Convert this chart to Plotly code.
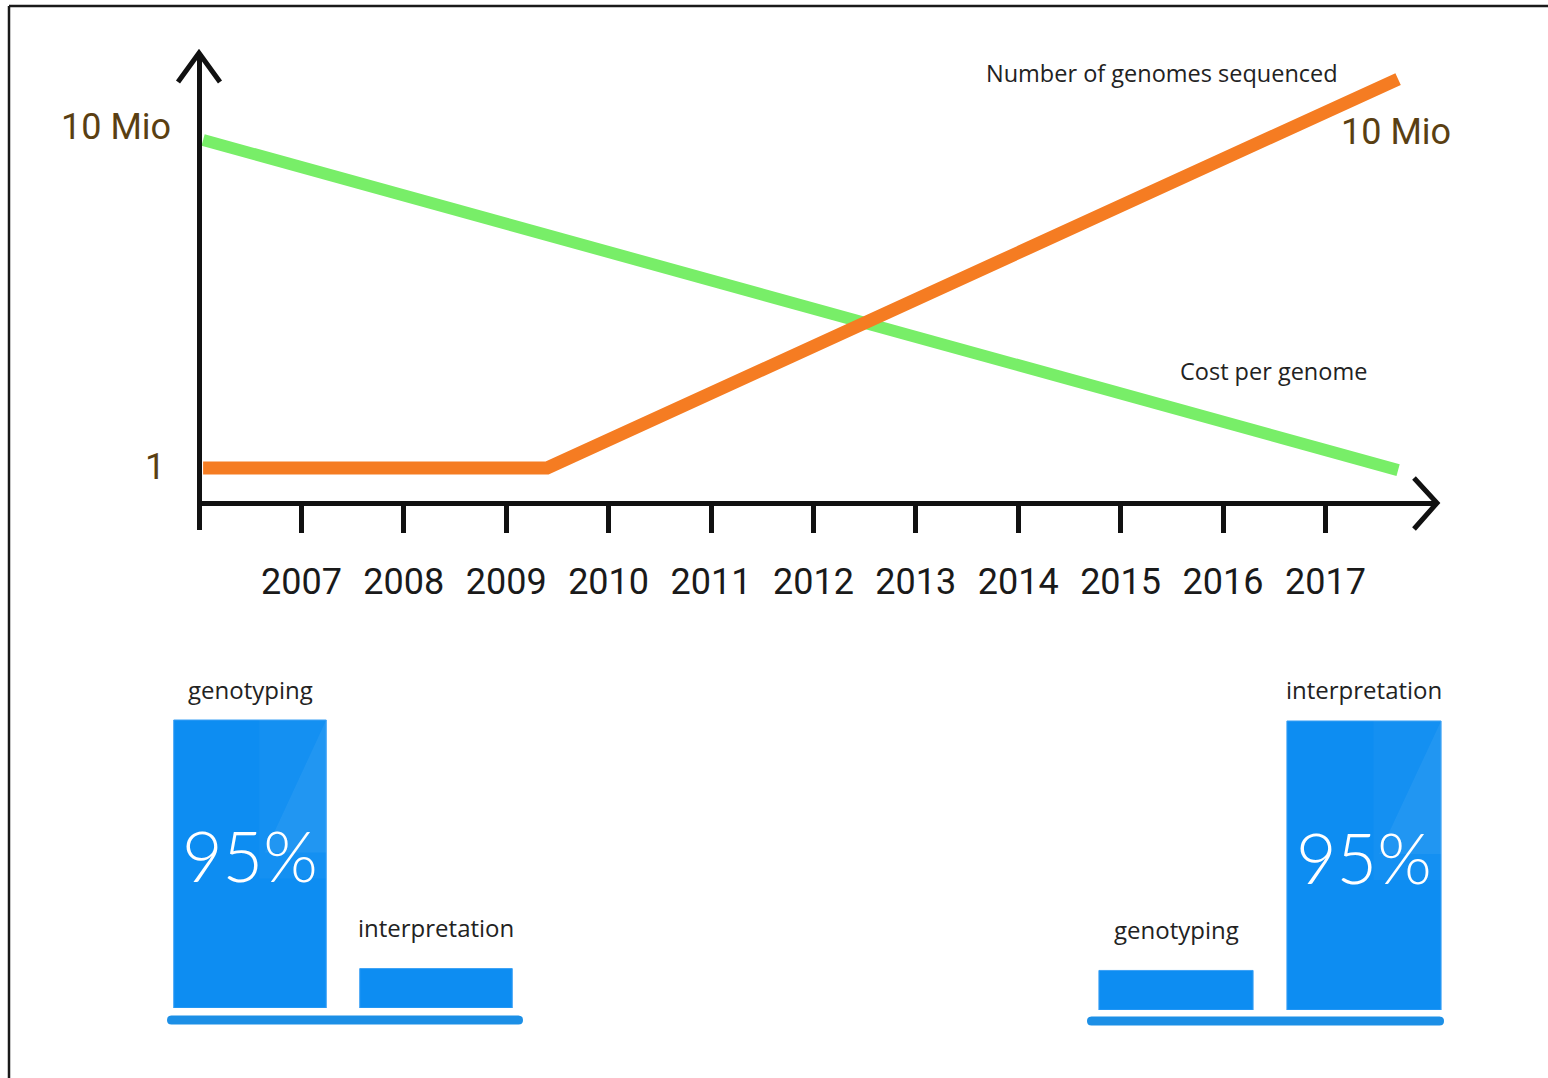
import math
import plotly.graph_objects as go

# ---- data -------------------------------------------------------------
years = [2007, 2008, 2009, 2010, 2011, 2012, 2013, 2014, 2015, 2016, 2017]

cost_x = [2006.04, 2017.71]          # cost per genome
cost_y = [1.0e7, 0.9]

genomes_x = [2006.04, 2009.40, 2017.71]   # number of genomes sequenced
genomes_y = [1.0, 1.0, 2.0e8]

categories = ["genotyping", "interpretation"]
share_before = [95, 13]
share_after = [13, 95]

# ---- page geometry helpers (pixels -> paper fractions) ---------------
W, H = 1548, 1078


def px(x):
    return x / W


def py(y):
    return 1 - y / H


AXIS = "#111111"
BAR = "#0d8df2"
BASE = "#1c8fe6"
BROWN = "#5a3f12"
TEXT = "#222222"
NARROW = "Roboto, Liberation Sans, sans-serif"
SOFT = "Open Sans, Lato, sans-serif"


def narrow_font(size, color):
    return dict(family=NARROW, size=size, color=color)


# log scale: value 1 at y=468 px, 10 Mio at y=140 px
PX_PER_DECADE = (468 - 140) / 7.0


def ylog_at(ypix):
    return (468 - ypix) / PX_PER_DECADE


X_ORIGIN, X_TIP, PX_PER_YEAR = 199, 1437, 102.4
Y_AXIS_LINE = 503

fig = go.Figure()

fig.add_trace(go.Scatter(
    x=cost_x, y=cost_y, mode="lines", name="Cost per genome",
    line=dict(color="#78ee68", width=12), xaxis="x", yaxis="y",
    hoverinfo="skip"))
fig.add_trace(go.Scatter(
    x=genomes_x, y=genomes_y, mode="lines", name="Number of genomes sequenced",
    line=dict(color="#f57c22", width=13), xaxis="x", yaxis="y",
    hoverinfo="skip"))

BAR_W = 0.82
fig.add_trace(go.Bar(
    x=[0, 1], y=share_before, width=BAR_W, marker=dict(color=BAR, line=dict(color="#3aa0f5", width=1)),
    xaxis="x3", yaxis="y3", hoverinfo="skip"))
fig.add_trace(go.Bar(
    x=[0, 1], y=share_after, width=BAR_W, marker=dict(color=BAR, line=dict(color="#3aa0f5", width=1)),
    xaxis="x4", yaxis="y4", hoverinfo="skip"))

shapes = []
annotations = []

# frame around the page (left and top edges)
shapes.append(dict(type="line", xref="paper", yref="paper",
                   x0=px(9), x1=px(9), y0=py(6), y1=-0.01,
                   line=dict(color="#1a1a1a", width=2.5)))
shapes.append(dict(type="line", xref="paper", yref="paper",
                   x0=px(9), x1=1.01, y0=py(6), y1=py(6),
                   line=dict(color="#1a1a1a", width=2.5)))

# open chevron arrow heads on both axes
shapes.append(dict(type="path", xref="paper", yref="paper",
                   path=f"M {px(178)} {py(82)} L {px(199)} {py(53)} L {px(220)} {py(82)}",
                   line=dict(color=AXIS, width=5)))
shapes.append(dict(type="path", xref="paper", yref="paper",
                   path=f"M {px(1414)} {py(478)} L {px(1437)} {py(503)} L {px(1414)} {py(529)}",
                   line=dict(color=AXIS, width=5)))


def base_bar(x0, x1, yc, t):
    r = t / 2
    a, b = px(x0), px(x1)
    ra = px(x0 + r) - a
    top, bot, mid = py(yc - r), py(yc + r), py(yc)
    return (f"M {a + ra} {top} L {b - ra} {top} Q {b} {top} {b} {mid} "
            f"Q {b} {bot} {b - ra} {bot} L {a + ra} {bot} Q {a} {bot} {a} {mid} "
            f"Q {a} {top} {a + ra} {top} Z")


for x0, x1, yc in [(167, 523, 1020), (1087, 1444, 1021)]:
    shapes.append(dict(type="path", xref="paper", yref="paper",
                       path=base_bar(x0, x1, yc, 9),
                       fillcolor=BASE, line=dict(width=0)))


# glossy highlight on the tall bars
def gloss(xa, ya, i, v):
    right = i + BAR_W / 2
    band_left = i + 0.05
    diag_left = i + 0.08
    shapes.append(dict(type="rect", xref=xa, yref=ya,
                       x0=band_left, x1=right, y0=v * 0.45, y1=v,
                       fillcolor="rgba(255,255,255,0.03)", line=dict(width=0),
                       layer="above"))
    shapes.append(dict(type="path", xref=xa, yref=ya,
                       path=f"M {right} {v} L {diag_left} {v * 0.54} L {right} {v * 0.54} Z",
                       fillcolor="rgba(255,255,255,0.06)", line=dict(width=0),
                       layer="above"))


gloss("x3", "y3", 0, share_before[0])
gloss("x4", "y4", 1, share_after[1])

# bar labels
for xa, ya, vals in [("x3", "y3", share_before), ("x4", "y4", share_after)]:
    top = max(vals)
    for i, (cat, v) in enumerate(zip(categories, vals)):
        annotations.append(dict(
            x=i, y=v, xref=xa, yref=ya, text=cat, showarrow=False,
            yanchor="middle", yshift=31 if v == top else 41,
            font=dict(family=SOFT, size=24, color=TEXT)))
        if v == top:
            annotations.append(dict(
                x=i, y=v * 0.53, xref=xa, yref=ya, text=f"{v}%", showarrow=False,
                yanchor="middle",
                font=dict(family="Lato, sans-serif", size=70, color="white", weight=300)))

# axis value labels
annotations.append(dict(x=px(173), y=py(127), xref="paper", yref="paper",
                        text="10 Mio", showarrow=False, xanchor="right", yanchor="middle",
                        font=narrow_font(36, BROWN)))
annotations.append(dict(x=px(167), y=py(467), xref="paper", yref="paper",
                        text="1", showarrow=False, xanchor="right", yanchor="middle",
                        font=narrow_font(36, BROWN)))
annotations.append(dict(x=genomes_x[-1], y=math.log10(genomes_y[-1]), xref="x", yref="y",
                        text="10 Mio", showarrow=False, xanchor="center", yanchor="middle",
                        yshift=-53, xshift=-2,
                        font=narrow_font(36, BROWN)))

# series names
annotations.append(dict(x=px(1340), y=py(73), xref="paper", yref="paper",
                        text="Number of genomes sequenced", showarrow=False,
                        xanchor="right", yanchor="middle",
                        font=dict(family=SOFT, size=23.5, color=TEXT)))
annotations.append(dict(x=px(1178), y=py(371), xref="paper", yref="paper",
                        text="Cost per genome", showarrow=False,
                        xanchor="left", yanchor="middle",
                        font=dict(family=SOFT, size=23.5, color=TEXT)))

x_end = 2006 + (X_TIP - X_ORIGIN) / PX_PER_YEAR

fig.update_layout(
    width=W, height=H, margin=dict(l=0, r=0, t=0, b=0),
    paper_bgcolor="white", plot_bgcolor="rgba(0,0,0,0)",
    showlegend=False, barmode="group",
    shapes=shapes, annotations=annotations,
    xaxis=dict(domain=[px(X_ORIGIN), px(X_TIP)], range=[2006, x_end],
               anchor="free", position=py(Y_AXIS_LINE),
               showline=True, linecolor=AXIS, linewidth=5,
               ticks="outside", ticklen=27, tickwidth=5, tickcolor=AXIS,
               tickvals=years, ticktext=[str(y) for y in years],
               tickfont=narrow_font(36, "#1a1a1a"),
               ticklabelstandoff=18,
               showgrid=False, zeroline=False),
    xaxis2=dict(overlaying="x", range=[2006, x_end], anchor="free",
                position=py(Y_AXIS_LINE), showline=False,
                ticks="inside", ticklen=25, tickwidth=5, tickcolor=AXIS,
                tickvals=years, showticklabels=False,
                showgrid=False, zeroline=False),
    yaxis=dict(type="log", domain=[py(530), py(53)],
               range=[ylog_at(530), ylog_at(53)],
               anchor="free", position=px(X_ORIGIN),
               showline=True, linecolor=AXIS, linewidth=5,
               ticks="", showticklabels=False, showgrid=False, zeroline=False),
    xaxis3=dict(domain=[px(157), px(529)], range=[-0.5, 1.5], anchor="y3",
                visible=False),
    yaxis3=dict(domain=[py(1008), py(1008 - 288 / 95 * 100)], range=[0, 100],
                anchor="x3", visible=False),
    xaxis4=dict(domain=[px(1082), px(1458)], range=[-0.5, 1.5], anchor="y4",
                visible=False),
    yaxis4=dict(domain=[py(1010), py(1010 - 289 / 95 * 100)], range=[0, 100],
                anchor="x4", visible=False),
)

fig.write_html("out.html")
